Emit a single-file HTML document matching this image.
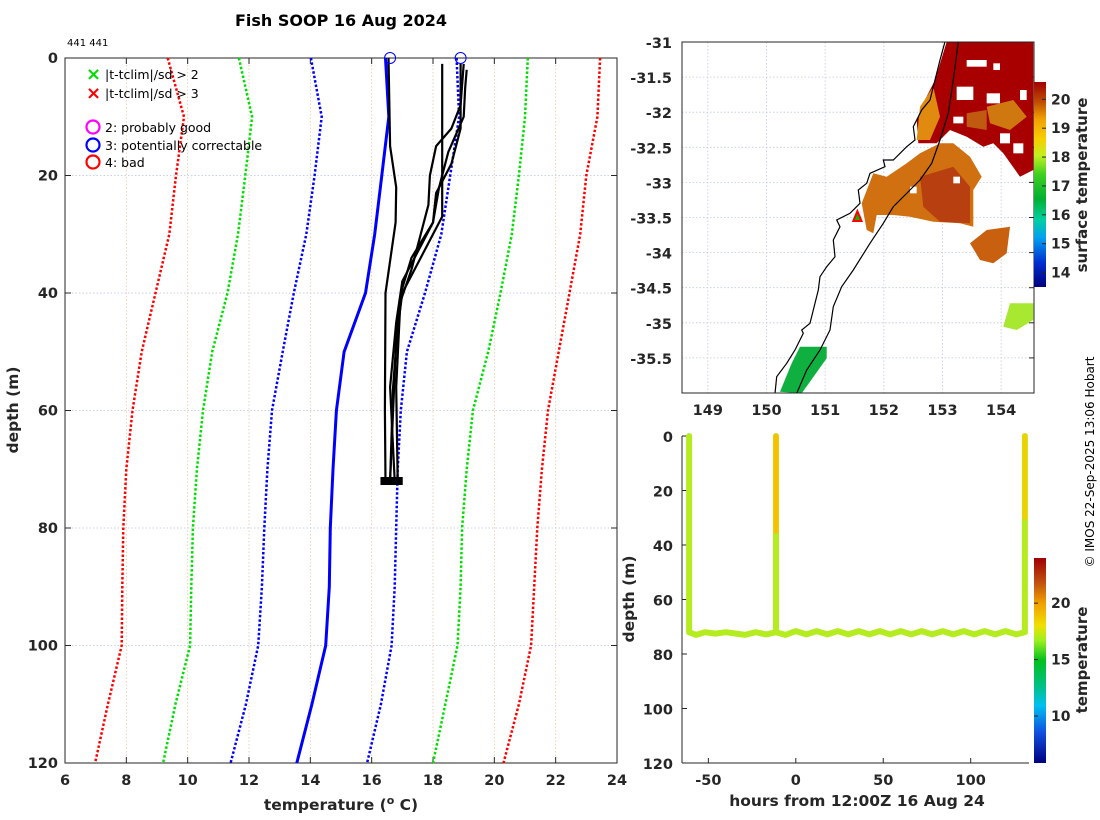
<!DOCTYPE html>
<html><head><meta charset="utf-8"><style>
html,body{margin:0;padding:0;background:#fff;}
svg{display:block;font-family:"DejaVu Sans","Liberation Sans",sans-serif;}
.tk{font-size:14.5px;font-weight:bold;fill:#262626;}
.lab{font-size:15.5px;font-weight:bold;fill:#262626;}
</style></head><body>
<svg id="fig" width="1100" height="820" viewBox="0 0 1100 820">
<defs>
<linearGradient id="cb1" x1="0" y1="1" x2="0" y2="0">
<stop offset="0" stop-color="#00007f"/><stop offset="0.12" stop-color="#0030d0"/><stop offset="0.24" stop-color="#00a0f0"/><stop offset="0.33" stop-color="#00d0a0"/><stop offset="0.43" stop-color="#00b030"/><stop offset="0.55" stop-color="#40d020"/><stop offset="0.64" stop-color="#c0f020"/><stop offset="0.72" stop-color="#f8d000"/><stop offset="0.82" stop-color="#f0a000"/><stop offset="0.9" stop-color="#c05000"/><stop offset="1" stop-color="#a00000"/>
</linearGradient>
<linearGradient id="cb2" x1="0" y1="1" x2="0" y2="0">
<stop offset="0" stop-color="#00007f"/><stop offset="0.15" stop-color="#1050e0"/><stop offset="0.28" stop-color="#00c0f0"/><stop offset="0.38" stop-color="#00c080"/><stop offset="0.5" stop-color="#00c020"/><stop offset="0.6" stop-color="#a0f020"/><stop offset="0.67" stop-color="#f0e000"/><stop offset="0.78" stop-color="#f0a000"/><stop offset="0.88" stop-color="#c05010"/><stop offset="1" stop-color="#a00000"/>
</linearGradient>
</defs>
<g id="left"></g>
<g id="map"></g>
<g id="track"></g>
<text x="341" y="26" text-anchor="middle" style="font-size:16px;font-weight:bold" fill="#000">Fish SOOP 16 Aug 2024</text>
<text x="67" y="46" style="font-size:10px" fill="#000">441 441</text>
<text transform="translate(1094,462) rotate(-90)" text-anchor="middle" style="font-size:12px" fill="#000">© IMOS 22-Sep-2025 13:06 Hobart</text>
</svg>
<script>
// ---------- profile chart data ----------
const climDepths = [0,10,20,30,40,50,60,70,80,90,100,110,120];
const meanT   = [16.45,16.56,16.33,16.1,15.8,15.1,14.85,14.74,14.65,14.62,14.5,14.05,13.56];
const sd1Low  = [14.02,14.37,14.14,13.87,13.46,13.1,12.75,12.6,12.5,12.42,12.3,11.9,11.4];
const sd1High = [18.77,18.85,18.56,18.27,17.74,17.15,16.95,16.85,16.8,16.75,16.65,16.3,15.85];
const sd2Low  = [11.67,12.1,11.88,11.64,11.3,10.8,10.5,10.3,10.17,10.12,10.08,9.6,9.2];
const sd2High = [21.09,21.0,20.8,20.57,20.2,19.8,19.3,19.1,18.95,18.9,18.8,18.4,18.0];
const sd3Low  = [9.35,9.88,9.62,9.4,8.95,8.5,8.2,8.0,7.9,7.87,7.85,7.4,6.98];
const sd3High = [23.45,23.36,23.0,22.8,22.45,22.1,21.75,21.55,21.4,21.3,21.2,20.8,20.3];
const profA = [[1,18.3],[27,18.3],[33,17.7],[40,17.0],[48,16.8],[60,16.7],[72,16.6]];
const profB = [[0,16.55],[15,16.6],[22,16.8],[28,16.78],[40,16.45],[60,16.43],[72,16.45]];
const profC = [[1,18.9],[12,18.9],[18,18.6],[23,18.1],[28,18.0],[33,17.5],[38,17.0],[45,16.8],[56,16.6],[72,16.75]];
const profD = [[1,19.0],[8,18.9],[12,18.6],[15,18.1],[20,17.9],[25,17.85],[30,17.6],[36,17.3],[42,16.9],[56,16.7],[72,16.6]];
const profE = [[2,19.1],[5,19.05],[10,19.0],[16,18.5],[22,18.2],[28,18.0],[34,17.3],[40,16.95],[56,16.8],[72,16.85]];
const flagT = [16.6,18.9];
const flagD = [0,0];
const tempTicks = [6,8,10,12,14,16,18,20,22,24];
const depthTicks = [0,20,40,60,80,100,120];

// ---------- track data ----------
const trackH = [-61,-61,-57,-52,-46,-40,-34,-29,-23,-17,-11.3,-11.3,-11.3,-6,0,6,12,18,24,30,36,42,48,54,60,66,72,78,84,90,96,102,108,114,120,126,131,131];
const trackD = [0,72,73,72,72.5,72,72.5,73,72,72.8,72,0,72,73,71.6,72.8,71.6,72.8,71.6,72.8,71.6,72.8,71.6,72.8,71.6,72.8,71.6,72.8,71.6,72.8,71.6,72.8,71.6,72.8,71.6,72.8,72,0];
const hourTicks = [-50,0,50,100];
const lonTicks = [149,150,151,152,153,154];
const latTicks = [-31,-31.5,-32,-32.5,-33,-33.5,-34,-34.5,-35,-35.5];
const cb1Ticks = [14,15,16,17,18,19,20];
const cb2Ticks = [10,15,20];

const NS="http://www.w3.org/2000/svg";
function mk(parent,tag,attrs){const e=document.createElementNS(NS,tag);for(const k in attrs)e.setAttribute(k,attrs[k]);parent.appendChild(e);return e;}

// ---- left chart ----
const L=document.getElementById('left');
const X0=65,X1=617,Y0=58,Y1=763;
const xT=t=>X0+(t-6)/(24-6)*(X1-X0);
const yD=d=>Y0+d/120*(Y1-Y0);
let g;
tempTicks.forEach(t=>{
  if(t>6&&t<24){g=mk(L,'line',{x1:xT(t),x2:xT(t),y1:Y0,y2:Y1,stroke:'#e8c8a8','stroke-width':0.8,'stroke-dasharray':'1.5 2'});
  }
  g=mk(L,'text',{x:xT(t),y:Y1+22,'text-anchor':'middle',class:'tk'});g.textContent=t;
  
  mk(L,'line',{x1:xT(t),x2:xT(t),y1:Y1,y2:Y1-6,stroke:'#262626'});mk(L,'line',{x1:xT(t),x2:xT(t),y1:Y0,y2:Y0+6,stroke:'#262626'});
});
depthTicks.forEach(d=>{
  if(d>0&&d<120){g=mk(L,'line',{x1:X0,x2:X1,y1:yD(d),y2:yD(d),stroke:'#b8c4e8','stroke-width':0.8,'stroke-dasharray':'1.5 2'});
  }
  g=mk(L,'text',{x:X0-7,y:yD(d)+5,'text-anchor':'end',class:'tk'});g.textContent=d;
  
  mk(L,'line',{x1:X0,x2:X0+6,y1:yD(d),y2:yD(d),stroke:'#262626'});mk(L,'line',{x1:X1,x2:X1-6,y1:yD(d),y2:yD(d),stroke:'#262626'});
});
g=mk(L,'rect',{x:X0,y:Y0,width:X1-X0,height:Y1-Y0,fill:'none',stroke:'#262626','stroke-width':1});

function climLine(arr,color,dash,w,name){
  const p=arr.map((t,i)=>(i?'L':'M')+xT(t).toFixed(1)+','+yD(climDepths[i]).toFixed(1)).join('');
  const e=mk(L,'path',{d:p,fill:'none',stroke:color,'stroke-width':w,'stroke-dasharray':dash});
  
}
climLine(sd3Low,'#ff0000','2.5 2',2.5,'clim-3sd-low');
climLine(sd3High,'#ff0000','2.5 2',2.5,'clim-3sd-high');
climLine(sd2Low,'#00e000','2.5 2',2.5,'clim-2sd-low');
climLine(sd2High,'#00e000','2.5 2',2.5,'clim-2sd-high');
climLine(sd1Low,'#0000ff','2.5 2',2.5,'clim-1sd-low');
climLine(sd1High,'#0000ff','2.5 2',2.5,'clim-1sd-high');
climLine(meanT,'#0000ff','none',3,'clim-mean');
[profA,profB,profC,profD,profE].forEach((pr,k)=>{
  const p=pr.map((q,i)=>(i?'L':'M')+xT(q[1]).toFixed(1)+','+yD(q[0]).toFixed(1)).join('');
  const e=mk(L,'path',{d:p,fill:'none',stroke:'#000','stroke-width':2.2});
  
  const l=pr[pr.length-1];
  const m=mk(L,'rect',{x:xT(l[1])-5,y:yD(l[0])-4,width:10,height:8,fill:'#000'});
  
});
flagT.forEach((t,i)=>{
  const c=mk(L,'circle',{cx:xT(t),cy:yD(flagD[i]),r:5.5,fill:'none',stroke:'#0000ff','stroke-width':1});
  
});
// legend
const leg=mk(L,'g',{});
[['×','#00e000','|t-tclim|/sd > 2',74],['×','#ff0000','|t-tclim|/sd > 3',93]].forEach(r=>{
  let t=mk(leg,'text',{x:86,y:r[3]+6,fill:r[1],style:'font-size:18px;font-weight:bold'});t.textContent=r[0];
  t=mk(leg,'text',{x:105,y:r[3]+5,fill:'#000',style:'font-size:12.5px'});t.textContent=r[2];
  
});
[['#ff00ff','2: probably good',127],['#0000ff','3: potentially correctable',145],['#ff0000','4: bad',162]].forEach(r=>{
  mk(leg,'circle',{cx:93,cy:r[2],r:6.5,fill:'none',stroke:r[0],'stroke-width':2.2});
  const t=mk(leg,'text',{x:105,y:r[2]+5,fill:'#000',style:'font-size:12.5px'});t.textContent=r[1];
  
});
g=mk(L,'text',{x:341,y:810,'text-anchor':'middle',class:'lab'});g.innerHTML='temperature (<tspan dy="-6" style="font-size:11px">o</tspan><tspan dy="6"> C)</tspan>';

g=mk(L,'text',{transform:'translate(18,410) rotate(-90)','text-anchor':'middle',class:'lab'});g.textContent='depth (m)';


// ---- map ----
const M=document.getElementById('map');
const MX0=682,MX1=1034,MY0=42,MY1=393;
const xL=lon=>MX0+(lon-148.56)/6*(MX1-MX0);
const yL=lat=>MY0+(-31-lat)/5*(MY1-MY0);
lonTicks.forEach(v=>{
  mk(M,'line',{x1:xL(v),x2:xL(v),y1:MY0,y2:MY1,stroke:'#c0c8e8','stroke-width':0.8,'stroke-dasharray':'1.5 2'});
  g=mk(M,'text',{x:xL(v),y:MY1+22,'text-anchor':'middle',class:'tk'});g.textContent=v;
  
});
latTicks.forEach(v=>{
  mk(M,'line',{x1:MX0,x2:MX1,y1:yL(v),y2:yL(v),stroke:'#c0c8e8','stroke-width':0.8,'stroke-dasharray':'1.5 2'});
  g=mk(M,'text',{x:MX0-10,y:yL(v)+6,'text-anchor':'end',class:'tk'});g.textContent=v;
  
  mk(M,'line',{x1:MX1,x2:MX1-5,y1:yL(v),y2:yL(v),stroke:'#262626'});
});
const Z=(pts)=>pts.map((p,i)=>(i?'L':'M')+(620+p[0]/3).toFixed(1)+','+(30+p[1]/3).toFixed(1)).join('')+'Z';
function blob(pts,fill,name){const e=mk(M,'path',{d:Z(pts),fill:fill});}
blob([[860,400],[900,370],[960,340],[1000,340],[1050,380],[1085,440],[1060,480],[1060,590],[1020,580],[940,575],[870,560],[820,555],[770,555],[760,610],[740,600],[725,520],[760,430],[800,440],[830,420]],'#d07010','sst-patch-orange');
blob([[980,35],[1240,35],[1240,420],[1200,440],[1150,370],[1120,340],[1090,350],[1040,320],[990,300],[950,340],[895,340],[890,270],[910,220],[945,150]],'#a80000','warm-eddy');
blob([[900,230],[940,170],[960,260],[930,330],[890,330]],'#e08a10','coastal-warm-strip');
blob([[1100,230],[1180,210],[1220,260],[1170,300],[1110,280]],'#d07810','warm-core');
blob([[1040,250],[1100,240],[1100,300],[1040,290]],'#c05a10','warm-patch');
blob([[900,440],[1000,410],[1050,470],[1050,580],[960,575],[910,530]],'#b84010','sst-patch-core');
blob([[1050,640],[1100,600],[1170,590],[1160,670],[1120,700],[1080,690]],'#c86010','sst-patch-se');
blob([[1170,820],[1240,820],[1240,870],[1190,900],[1150,890]],'#a8e830','sst-patch-south');
blob([[540,950],[620,950],[620,985],[545,1090],[480,1085],[515,1000]],'#10b040','sst-patch-green');
const wh=[[1040,90,60,20],[1120,100,20,20],[1010,170,50,40],[1100,190,40,30],[1200,180,20,30],[1140,310,30,30],[1000,260,30,20],[1180,340,30,30],[870,470,20,20],[1000,440,20,20]];
wh.forEach(r=>{mk(M,'rect',{x:620+r[0]/3,y:30+r[1]/3,width:r[2]/3,height:r[3]/3,fill:'#fff'});});
const coast=[[975,35],[960,90],[945,150],[930,210],[905,240],[880,290],[885,330],[860,350],[820,390],[790,390],[795,410],[750,430],[740,460],[715,480],[720,520],[690,550],[650,570],[660,590],[640,630],[645,680],[620,710],[600,740],[595,780],[580,840],[570,880],[545,900],[550,910],[525,960],[500,1000],[470,1040],[465,1090]];
g=mk(M,'path',{d:coast.map((p,i)=>(i?'L':'M')+(620+p[0]/3).toFixed(1)+','+(30+p[1]/3).toFixed(1)).join(''),fill:'none',stroke:'#000','stroke-width':1.2});

const shelf=[[1015,35],[1000,150],[985,250],[960,330],[935,400],[900,450],[870,480],[820,530],[790,580],[750,640],[700,720],[665,770],[640,830],[630,900],[600,960],[560,1020],[530,1090]];
g=mk(M,'path',{d:shelf.map((p,i)=>(i?'L':'M')+(620+p[0]/3).toFixed(1)+','+(30+p[1]/3).toFixed(1)).join(''),fill:'none',stroke:'#000','stroke-width':1.2});

g=mk(M,'path',{d:`M${xL(151.55)},${yL(-33.41)}L${xL(151.48)},${yL(-33.55)}L${xL(151.62)},${yL(-33.55)}Z`,fill:'#00c000',stroke:'#ff0000','stroke-width':2});

g=mk(M,'rect',{x:MX0,y:MY0,width:MX1-MX0,height:MY1-MY0,fill:'none',stroke:'#262626'});

// colorbar 1
const cbY=t=>287-(t-13.5)/(20.6-13.5)*(287-82);
g=mk(M,'rect',{x:1034,y:82,width:12,height:205,fill:'url(#cb1)'});

cb1Ticks.forEach(v=>{mk(M,'line',{x1:1046,x2:1042,y1:cbY(v),y2:cbY(v),stroke:'#262626'});
  const t=mk(M,'text',{x:1051,y:cbY(v)+5,class:'tk',style:'font-size:14px'});t.textContent=v;
  });
g=mk(M,'text',{transform:'translate(1087,185) rotate(-90)','text-anchor':'middle',class:'lab',style:'font-size:15px'});g.textContent='surface temperature';


// ---- track chart ----
const T=document.getElementById('track');
const TX0=682,TX1=1029,TY0=436,TY1=763;
const xH=h=>795.8+h*1.749;
const yT=d=>TY0+d/120*(TY1-TY0);
mk(T,'line',{x1:TX0,x2:TX0,y1:TY0,y2:TY1,stroke:'#262626'});
mk(T,'line',{x1:TX0,x2:TX1,y1:TY1,y2:TY1,stroke:'#262626'});
hourTicks.forEach(h=>{mk(T,'line',{x1:xH(h),x2:xH(h),y1:TY1,y2:TY1-5,stroke:'#262626'});
  const t=mk(T,'text',{x:xH(h),y:TY1+22,'text-anchor':'middle',class:'tk'});t.textContent=h;
  });
depthTicks.forEach(d=>{mk(T,'line',{x1:TX0,x2:TX0+5,y1:yT(d),y2:yT(d),stroke:'#262626'});
  const t=mk(T,'text',{x:TX0-9,y:yT(d)+6,'text-anchor':'end',class:'tk'});t.textContent=d;
  });
g=mk(T,'path',{d:trackH.map((h,i)=>(i?'L':'M')+xH(h).toFixed(1)+','+yT(trackD[i]).toFixed(1)).join(''),fill:'none',stroke:'#b4ec20','stroke-width':6,'stroke-linejoin':'round','stroke-linecap':'round'});

g=mk(T,'line',{x1:xH(-11.3),x2:xH(-11.3),y1:yT(0),y2:yT(35),stroke:'#f8c000','stroke-width':5,'stroke-linecap':'round'});

g=mk(T,'line',{x1:xH(131),x2:xH(131),y1:yT(0),y2:yT(30),stroke:'#f0d000','stroke-width':5,'stroke-linecap':'round'});

const cb2Y=t=>763-(t-5.84)/(24-5.84)*(763-558);
g=mk(T,'rect',{x:1034,y:558,width:12,height:205,fill:'url(#cb2)'});

cb2Ticks.forEach(v=>{mk(T,'line',{x1:1034,x2:1038,y1:cb2Y(v),y2:cb2Y(v),stroke:'#262626'});
  const t=mk(T,'text',{x:1051,y:cb2Y(v)+5,class:'tk',style:'font-size:14px'});t.textContent=v;
  });
g=mk(T,'text',{transform:'translate(1087,660) rotate(-90)','text-anchor':'middle',class:'lab',style:'font-size:15px'});g.textContent='temperature';

g=mk(T,'text',{x:857,y:806,'text-anchor':'middle',class:'lab'});g.textContent='hours from 12:00Z 16 Aug 24';

g=mk(T,'text',{transform:'translate(634,599) rotate(-90)','text-anchor':'middle',class:'lab'});g.textContent='depth (m)';

</script>
</body></html>
